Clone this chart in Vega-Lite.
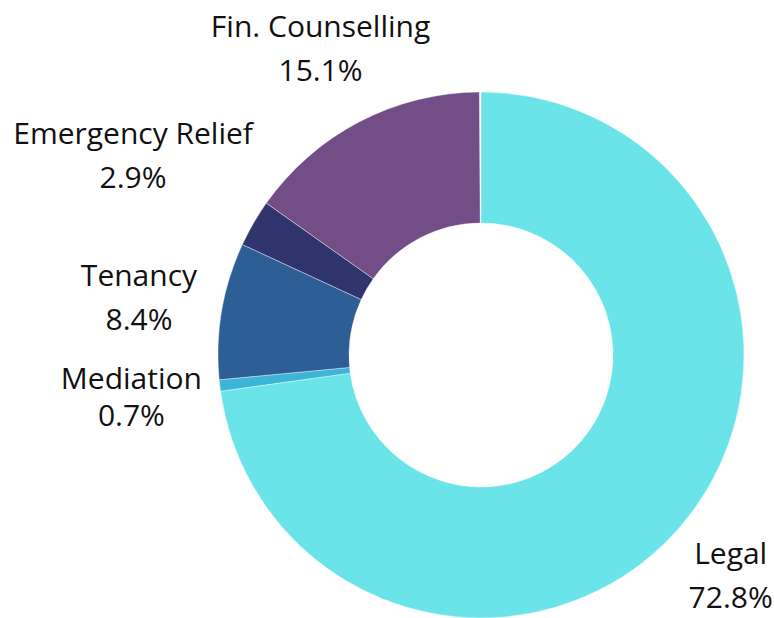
{
  "$schema": "https://vega.github.io/schema/vega-lite/v6.json",
  "autosize": {"type": "none"},
  "width": 526,
  "height": 526,
  "padding": {"left": 218, "top": 92, "right": 30, "bottom": 0},
  "background": "white",
  "config": {"view": {"stroke": null}},
  "data": {
    "values": [
      {"category": "Legal", "pct": 72.8, "order": 1},
      {"category": "Mediation", "pct": 0.7, "order": 2},
      {"category": "Tenancy", "pct": 8.4, "order": 3},
      {"category": "Emergency Relief", "pct": 2.9, "order": 4},
      {"category": "Fin. Counselling", "pct": 15.1, "order": 5}
    ]
  },
  "transform": [
    {"stack": "pct", "groupby": [], "sort": [{"field": "order", "order": "ascending"}], "as": ["start", "end"]},
    {"calculate": "(datum.start + datum.end) / 2", "as": "mid"},
    {"calculate": "datum.category + '\\n' + format(datum.pct, '.1f') + '%'", "as": "label"}
  ],
  "layer": [
    {
      "mark": {"type": "arc", "outerRadius": 263, "innerRadius": 132, "stroke": "#ffffff", "strokeWidth": 0.4},
      "encoding": {
        "theta": {"field": "start", "type": "quantitative", "scale": {"domain": [0, 100]}},
        "theta2": {"field": "end"},
        "color": {
          "field": "category",
          "type": "nominal",
          "legend": null,
          "scale": {
            "domain": ["Legal", "Mediation", "Tenancy", "Emergency Relief", "Fin. Counselling"],
            "range": ["#6AE4E8", "#3DB5D8", "#2D5E96", "#30346C", "#734D85"]
          }
        }
      }
    },
    {
      "transform": [{"filter": "datum.category == 'Tenancy' || datum.category == 'Fin. Counselling'"}],
      "mark": {"type": "text", "radius": 347, "dy": -19, "font": "Open Sans", "fontSize": 30, "lineBreak": "\n", "lineHeight": 44, "align": "center", "baseline": "middle", "color": "#111111"},
      "encoding": {
        "theta": {"field": "mid", "type": "quantitative", "stack": null, "scale": {"domain": [0, 100]}},
        "text": {"field": "label"}
      }
    },
    {
      "transform": [{"filter": "datum.category == 'Mediation'"}],
      "mark": {"type": "text", "radius": 352, "dy": -16, "font": "Open Sans", "fontSize": 30, "lineBreak": "\n", "lineHeight": 37, "align": "center", "baseline": "middle", "color": "#111111"},
      "encoding": {
        "theta": {"field": "mid", "type": "quantitative", "stack": null, "scale": {"domain": [0, 100]}},
        "text": {"field": "label"}
      }
    },
    {
      "transform": [{"filter": "datum.category == 'Emergency Relief'"}],
      "mark": {"type": "text", "radius": 402, "dy": -19, "font": "Open Sans", "fontSize": 30, "lineBreak": "\n", "lineHeight": 44, "align": "center", "baseline": "middle", "color": "#111111"},
      "encoding": {
        "theta": {"field": "mid", "type": "quantitative", "stack": null, "scale": {"domain": [0, 100]}},
        "text": {"field": "label"}
      }
    },
    {
      "transform": [{"filter": "datum.category == 'Legal'"}],
      "mark": {"type": "text", "radius": 331, "dy": -17, "font": "Open Sans", "fontSize": 30, "lineBreak": "\n", "lineHeight": 44, "align": "center", "baseline": "middle", "color": "#111111"},
      "encoding": {
        "theta": {"field": "mid", "type": "quantitative", "stack": null, "scale": {"domain": [0, 100]}},
        "text": {"field": "label"}
      }
    }
  ]
}
